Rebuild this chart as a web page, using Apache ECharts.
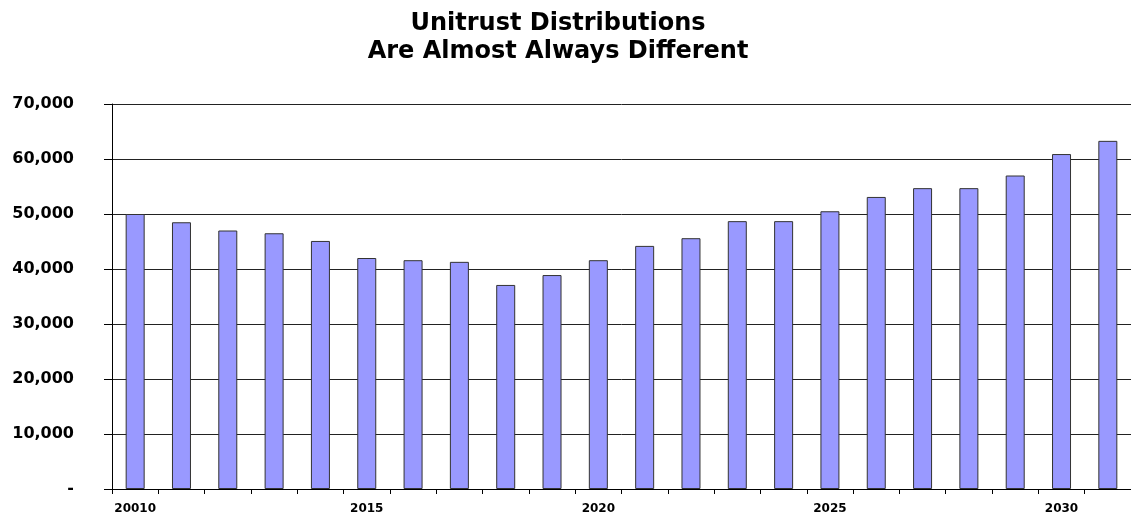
<!DOCTYPE html>
<html>
<head>
<meta charset="utf-8">
<script src="https://cdn.jsdelivr.net/npm/echarts@6/dist/echarts.min.js"></script>
<style>
  html, body { margin: 0; padding: 0; background: #fff; }
  #chart { width: 1131px; height: 517px; }
</style>
</head>
<body>
<div id="chart"></div>
<script>
// years on the x axis (first label is printed "20010" in the original)
var years = ['20010', '2011', '2012', '2013', '2014', '2015', '2016', '2017', '2018', '2019',
             '2020', '2021', '2022', '2023', '2024', '2025', '2026', '2027', '2028', '2029',
             '2030', '2031'];
// unitrust distribution per year
var distributions = [50000, 48500, 47000, 46500, 45100, 42000, 41600, 41300, 37100, 38900,
                     41600, 44200, 45600, 48700, 48700, 50500, 53100, 54700, 54700, 57000,
                     60900, 63300];
var yTicks = [0, 10000, 20000, 30000, 40000, 50000, 60000, 70000];

var fontFam = '"DejaVu Sans", "Liberation Sans", Arial, sans-serif';

var chart = echarts.init(document.getElementById('chart'));
var option = {
    animation: false,
    title: {
        text: 'Unitrust Distributions\nAre Almost Always Different',
        left: 553,
        textAlign: 'center',
        top: 5,
        textStyle: {
            fontFamily: fontFam,
            fontSize: 24,
            fontWeight: 'bold',
            color: '#000',
            lineHeight: 28
        }
    },
    grid: {
        left: 112,
        right: 0,
        top: 104,
        bottom: 28,
        containLabel: false
    },
    xAxis: {
        type: 'category',
        data: years,
        axisLine: { lineStyle: { color: '#000', width: 1 } },
        axisTick: {
            show: true,
            interval: 0,
            length: 5,
            lineStyle: { color: '#000' }
        },
        axisLabel: {
            interval: 4,
            margin: 14,
            fontFamily: fontFam,
            fontSize: 12,
            fontWeight: 'bold',
            color: '#000'
        }
    },
    yAxis: {
        type: 'value',
        min: yTicks[0],
        max: yTicks[yTicks.length - 1],
        interval: 10000,
        axisLine: { show: true, lineStyle: { color: '#000', width: 1 } },
        axisTick: { show: true, length: 8, lineStyle: { color: '#000' } },
        splitLine: { show: true, lineStyle: { color: '#222', width: 1 } },
        axisLabel: {
            margin: 38,
            fontFamily: fontFam,
            fontSize: 16,
            fontWeight: 'bold',
            color: '#000',
            formatter: function (v) {
                if (v === 0) return '-';
                return v.toLocaleString('en-US');
            }
        }
    },
    series: [
        {
            type: 'bar',
            data: distributions,
            barWidth: 19,
            itemStyle: {
                color: '#9999ff',
                borderColor: '#333',
                borderWidth: 1
            }
        }
    ]
};
chart.setOption(option);
</script>
</body>
</html>
